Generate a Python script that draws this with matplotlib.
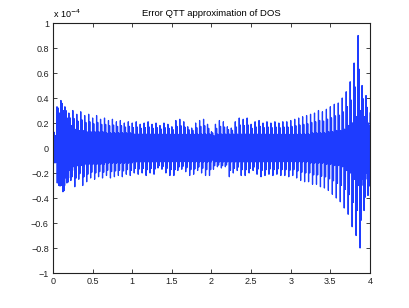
import numpy as np
import matplotlib.pyplot as plt
from matplotlib.ticker import FuncFormatter

plt.rcParams['font.family'] = ['Liberation Sans', 'DejaVu Sans']

# sample positions of the spikes (energy axis)
x_knots = np.round(np.arange(0, 4.0001, 0.05), 2)

# spike tops (units of 1e-4)
peak_hi = [0.14, 0.33, 0.38, 0.33, 0.28, 0.30, 0.27, 0.29, 0.26, 0.27,
           0.24, 0.26, 0.23, 0.24, 0.22, 0.23, 0.21, 0.22, 0.20, 0.21,
           0.20, 0.21, 0.19, 0.20, 0.21, 0.19, 0.20, 0.18, 0.20, 0.19,
           0.17, 0.22, 0.23, 0.21, 0.17, 0.16, 0.20, 0.22, 0.23, 0.19,
           0.13, 0.19, 0.22, 0.21, 0.17, 0.16, 0.21, 0.24, 0.23, 0.24,
           0.19, 0.21, 0.22, 0.20, 0.21, 0.20, 0.21, 0.20, 0.21, 0.21,
           0.22, 0.23, 0.24, 0.25, 0.26, 0.27, 0.28, 0.30, 0.29, 0.31,
           0.33, 0.35, 0.36, 0.40, 0.45, 0.53, 0.68, 0.90, 0.50, 0.42,
           0.28]

# spike bottoms
peak_lo = [-0.12, -0.30, -0.35, -0.28, -0.26, -0.31, -0.25, -0.30, -0.27, -0.24,
           -0.25, -0.23, -0.24, -0.22, -0.24, -0.23, -0.22, -0.23, -0.21, -0.22,
           -0.20, -0.21, -0.20, -0.22, -0.20, -0.21, -0.16, -0.17, -0.20, -0.22,
           -0.22, -0.18, -0.17, -0.19, -0.22, -0.21, -0.18, -0.20, -0.22, -0.22,
           -0.17, -0.15, -0.16, -0.15, -0.23, -0.20, -0.18, -0.22, -0.22, -0.20,
           -0.18, -0.21, -0.23, -0.22, -0.21, -0.22, -0.21, -0.22, -0.22, -0.23,
           -0.22, -0.24, -0.26, -0.27, -0.27, -0.29, -0.29, -0.31, -0.32, -0.34,
           -0.37, -0.40, -0.43, -0.48, -0.53, -0.63, -0.70, -0.80, -0.50, -0.38,
           -0.25]

# half-width of the dense core band
core = [0.10, 0.28, 0.30, 0.24, 0.18, 0.15, 0.14, 0.14, 0.13, 0.13,
        0.13, 0.13, 0.13, 0.12, 0.12, 0.12, 0.12, 0.12, 0.12, 0.12,
        0.11, 0.11, 0.11, 0.11, 0.11, 0.11, 0.11, 0.11, 0.11, 0.11,
        0.11, 0.11, 0.11, 0.11, 0.11, 0.11, 0.11, 0.11, 0.11, 0.11,
        0.10, 0.11, 0.11, 0.11, 0.11, 0.11, 0.11, 0.11, 0.11, 0.11,
        0.11, 0.11, 0.11, 0.11, 0.11, 0.11, 0.11, 0.11, 0.11, 0.11,
        0.11, 0.11, 0.11, 0.11, 0.11, 0.12, 0.12, 0.12, 0.12, 0.13,
        0.13, 0.14, 0.14, 0.15, 0.18, 0.20, 0.25, 0.30, 0.25, 0.20,
        0.15]

# build the oscillating trace per knot: main up/down spike, a smaller
# secondary spike each way, and core oscillation in between
xs, ys = [], []
for i, x0 in enumerate(x_knots):
    c, hi, lo = core[i], peak_hi[i], peak_lo[i]
    seq = [hi, -c, 0.8 * c, -0.9 * c, 0.5 * (hi + c) * 1.05, -0.8 * c, c,
           lo, c, -0.8 * c, 0.9 * c, 0.5 * (lo - c) * 1.05, 0.8 * c, -c]
    if x0 >= 4.0:
        seq = seq[:1]
    step = 0.05 / 14
    for k, v in enumerate(seq):
        xs.append(x0 + k * step)
        ys.append(v)

fig = plt.figure(figsize=(4.09, 3.08), dpi=100)
ax = fig.add_axes([0.1296, 0.1136, 0.775, 0.8117])
ax.plot(xs, ys, color='#1e3cff', linewidth=0.9)

ax.set_xlim(0, 4)
ax.set_ylim(-1, 1)
ax.set_xticks(np.arange(0, 4.01, 0.5))
ax.set_yticks(np.round(np.arange(-1, 1.01, 0.2), 1))


def tick_fmt(v, pos):
    v = round(v, 6)
    if v == 0:
        return '0'
    return ('%g' % v).replace('-', '\u2212')


fmt = FuncFormatter(tick_fmt)
ax.xaxis.set_major_formatter(fmt)
ax.yaxis.set_major_formatter(fmt)
ax.tick_params(direction='in', length=3, width=0.6, labelsize=6.5,
               top=True, right=True, pad=3, colors='#222222')
for s in ax.spines.values():
    s.set_linewidth(0.8)
    s.set_color('#222222')

ax.set_title('Error QTT approximation of DOS', fontsize=6.8, pad=5)
ax.text(0.0, 1.012, r'x 10$^{-4}$', transform=ax.transAxes, fontsize=6.5,
        ha='left', va='bottom')

fig.savefig('out.png', dpi=100)
